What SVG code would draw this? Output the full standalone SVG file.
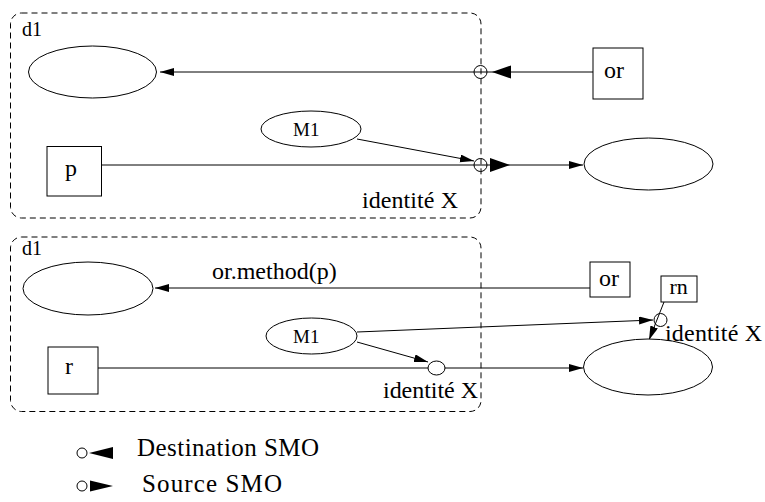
<svg xmlns="http://www.w3.org/2000/svg" width="765" height="502" viewBox="0 0 765 502">
<style>
.ln{stroke:#000;stroke-width:1;fill:none}
.bx{stroke:#000;stroke-width:1;fill:#fff}
.dash{stroke:#000;stroke-width:1;fill:none;stroke-dasharray:6 4}
.t{font-family:"Liberation Serif","Times New Roman",serif;fill:#000}
.tri{fill:#000;stroke:none}
</style>
<defs>
<marker id="ah" markerUnits="userSpaceOnUse" markerWidth="15" markerHeight="9" refX="14" refY="4" orient="auto">
<path d="M0,0 L14,4 L0,8 z" fill="#000"/>
</marker>
</defs>
<rect width="765" height="502" fill="#fff"/>
<g id="domain-top">
<rect class="dash" x="10.5" y="13" width="470.5" height="205" rx="11" ry="11"/>
<text class="t" x="22" y="36" font-size="20">d1</text>
</g>
<g id="domain-bottom">
<rect class="dash" x="10.5" y="237" width="470.5" height="174.5" rx="11" ry="11"/>
<text class="t" x="22" y="255" font-size="20">d1</text>
</g>
<g id="connectors">
<line class="ln" x1="593" y1="72" x2="160" y2="72" marker-end="url(#ah)"/>
<line class="ln" x1="101" y1="165" x2="583" y2="165" marker-end="url(#ah)"/>
<line class="ln" x1="357" y1="139" x2="474" y2="161" marker-end="url(#ah)"/>
<line class="ln" x1="590" y1="288" x2="155" y2="288" marker-end="url(#ah)"/>
<text class="t" x="212" y="279" font-size="24">or.method(p)</text>
<line class="ln" x1="98" y1="368" x2="583" y2="368" marker-end="url(#ah)"/>
<line class="ln" x1="357" y1="342" x2="428" y2="362" marker-end="url(#ah)"/>
<line class="ln" x1="357" y1="332" x2="653" y2="320" marker-end="url(#ah)"/>
<line class="ln" x1="664" y1="302" x2="649" y2="340" marker-end="url(#ah)"/>
</g>
<g id="smo-top-dest">
<circle class="ln" cx="480.5" cy="72" r="6.5"/>
<path class="tri" d="M492,72 L511,65.5 L511,78.5 z"/>
</g>
<g id="smo-top-src">
<circle class="ln" cx="480.5" cy="165" r="6.5"/>
<path class="tri" d="M510,165 L490,158 L490,172 z"/>
<text class="t" x="362" y="208" font-size="24" textLength="96">identité X</text>
</g>
<g id="ellipse-top-left"><ellipse class="bx" cx="92.5" cy="72" rx="64" ry="26"/></g>
<g id="or-top"><rect class="bx" x="593" y="48" width="50" height="51"/><text class="t" x="604" y="78" font-size="24">or</text></g>
<g id="m1-top"><ellipse class="bx" cx="311" cy="129" rx="50" ry="18"/><text class="t" x="293" y="136" font-size="19">M1</text></g>
<g id="p-box"><rect class="bx" x="47" y="146.5" width="54.5" height="49.5"/><text class="t" x="65" y="176" font-size="24">p</text></g>
<g id="ellipse-top-right"><ellipse class="bx" cx="648.5" cy="164" rx="64.5" ry="26"/></g>
<g id="ellipse-bottom-left"><ellipse class="bx" cx="88" cy="288.5" rx="65" ry="26.5"/></g>
<g id="or-bottom"><rect class="bx" x="590" y="262" width="40" height="35"/><text class="t" x="599" y="286" font-size="24">or</text></g>
<g id="rn-box"><rect class="bx" x="661" y="276" width="36" height="26"/><text class="t" x="669.5" y="294" font-size="22">rn</text></g>
<g id="smo-rn"><circle class="ln" cx="660.5" cy="320" r="6.5"/><text class="t" x="665" y="341" font-size="24" textLength="97">identité X</text></g>
<g id="m1-bottom"><ellipse class="bx" cx="311.5" cy="336" rx="45.5" ry="18"/><text class="t" x="293" y="343" font-size="19">M1</text></g>
<g id="r-box"><rect class="bx" x="48" y="347" width="50" height="47"/><text class="t" x="65" y="374" font-size="24">r</text></g>
<g id="smo-bottom"><ellipse class="bx" cx="436.5" cy="368" rx="8.5" ry="7"/><text class="t" x="383" y="398" font-size="24" textLength="95">identité X</text></g>
<g id="ellipse-bottom-right"><ellipse class="bx" cx="648" cy="367" rx="64.5" ry="28"/></g>
<g id="legend">
<circle class="ln" cx="82" cy="453" r="5"/>
<path class="tri" d="M89,453 L113,447 L113,459 z"/>
<text class="t" x="137" y="456" font-size="25" textLength="182">Destination SMO</text>
<circle class="ln" cx="82" cy="486" r="5"/>
<path class="tri" d="M113,486 L90,480.5 L90,491.5 z"/>
<text class="t" x="142" y="492" font-size="25" textLength="140">Source SMO</text>
</g>
</svg>
